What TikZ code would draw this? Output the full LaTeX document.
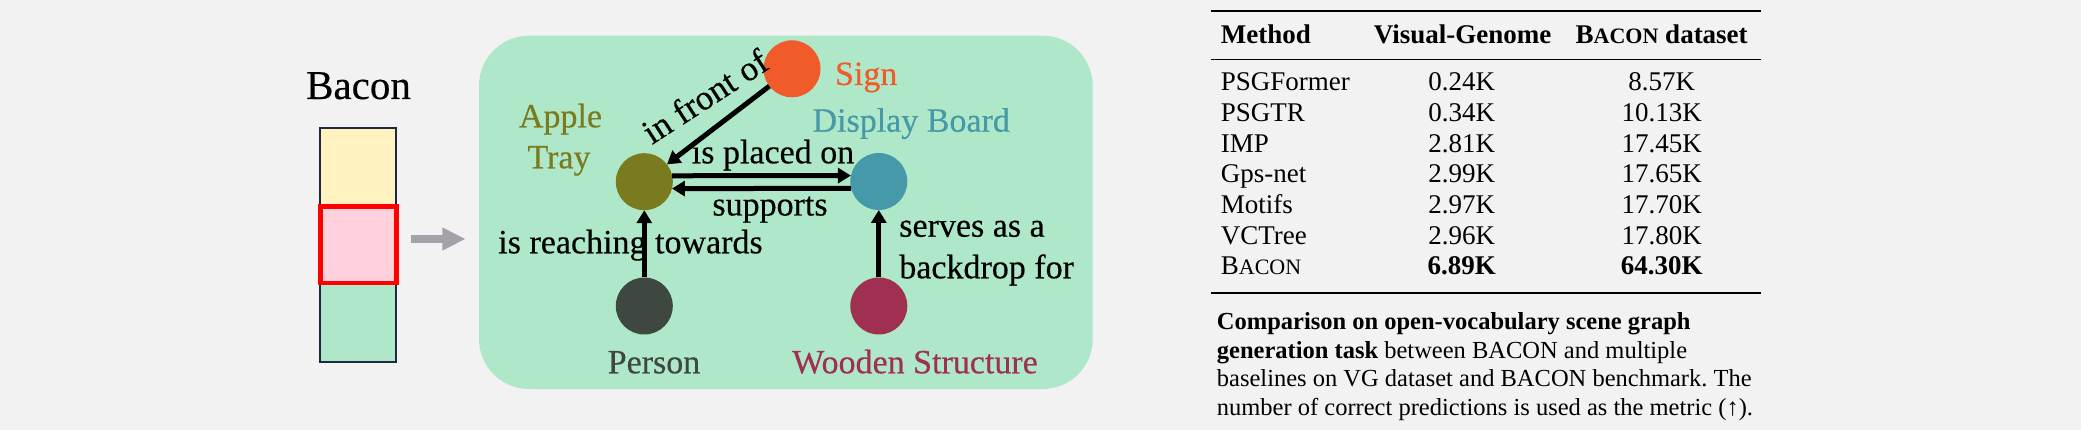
\documentclass[tikz,border=0pt]{standalone}
\usepackage{fontspec}
\setmainfont{Liberation Serif}
\newfontfamily\heavyserif[FakeBold=0.35]{Liberation Serif}
\usetikzlibrary{arrows.meta}
\frenchspacing
\definecolor{bg}{HTML}{F2F2F2}
\definecolor{panelgreen}{HTML}{AEE8C8}
\definecolor{stackyellow}{HTML}{FFF2C0}
\definecolor{stackpink}{HTML}{FFD1DC}
\definecolor{stacknavy}{HTML}{1B2A41}
\definecolor{arrowgray}{HTML}{A6A0AB}
\definecolor{signc}{HTML}{F15A29}
\definecolor{applec}{HTML}{7A7A1E}
\definecolor{dispc}{HTML}{4599A8}
\definecolor{personc}{HTML}{3E4740}
\definecolor{woodc}{HTML}{A03052}
\newcommand\bcnsc[1]{B{\fontsize{#1}{#1}\selectfont ACON}}
\begin{document}
\begin{tikzpicture}[x=1pt,y=-1pt,
  lbl/.style={inner sep=0pt,outer sep=0pt,font=\heavyserif\fontsize{34}{40}\selectfont},
  obj/.style={circle,inner sep=0pt,outer sep=0pt,minimum size=57pt},
  rel/.style={line width=5pt,-{Triangle[length=13pt,width=15pt]}},
  tabtxt/.style={inner sep=0pt,font=\fontsize{27}{32}\selectfont},
  tabhead/.style={inner sep=0pt,font=\fontsize{27}{32}\selectfont\bfseries},
  captxt/.style={inner sep=0pt,anchor=base west,font=\fontsize{24.5}{28}\selectfont},
]
\useasboundingbox (0,0) rectangle (2081,430);
\fill[bg] (0,0) rectangle (2081,430);

% ---- left stack ----
\node[inner sep=0pt,anchor=base,font=\heavyserif\fontsize{41}{48}\selectfont] (bacon) at (358.5,99) {Bacon};
\fill[stackyellow] (320.3,128.2) rectangle (396,206);
\fill[stackpink] (320.3,206) rectangle (396,284);
\fill[panelgreen] (320.3,284) rectangle (396,361.7);
\draw[stacknavy,line width=2pt] (320.3,128.2) rectangle (396,361.7);
\draw[red,line width=4.4pt] (320.5,206.7) rectangle (396.3,282.8);
\fill[arrowgray] (411,235.2) -- (442.3,235.2) -- (442.3,227.3) -- (465,239)
  -- (442.3,250.7) -- (442.3,242.8) -- (411,242.8) -- cycle;

% ---- scene graph panel ----
\fill[panelgreen,rounded corners=50pt] (479,35.7) rectangle (1092.7,389);

\node[obj,fill=signc] (sign) at (792,68.8) {};
\node[obj,fill=applec] (apple) at (644.3,181.7) {};
\node[obj,fill=dispc] (disp) at (878.8,181.5) {};
\node[obj,fill=personc] (person) at (644.3,306) {};
\node[obj,fill=woodc] (wood) at (878.8,306) {};

\node[lbl,anchor=base,text=signc] (signl) at (866.2,85) {Sign};
\node[lbl,anchor=base,text=applec] (applel1) at (560.5,127.3) {Apple};
\node[lbl,anchor=base,text=applec] (applel2) at (559,168.3) {Tray};
\node[lbl,anchor=base,text=dispc] (displ) at (911.2,131.7) {Display Board};
\node[lbl,anchor=base,text=personc] (personl) at (654,373.3) {Person};
\node[lbl,anchor=base,text=woodc] (woodl) at (915,373.3) {Wooden Structure};

\draw[rel] (sign) -- (apple);
\draw[rel] (apple.12) -- (disp.168);
\draw[rel] (disp.194) -- (apple.-14);
\draw[rel] (person) -- (apple);
\draw[rel] (wood) -- (disp);

\node[lbl,anchor=base west,rotate=33,font=\heavyserif\fontsize{35}{40}\selectfont] (e1) at (652,145) {in front of};
\node[lbl,anchor=base] (e2) at (773,163.3) {is placed on};
\node[lbl,anchor=base] (e3) at (770,215.5) {supports};
\node[lbl,anchor=base] (e4) at (630.5,253.3) {is reaching towards};
\node[lbl,anchor=base west] (e5a) at (899.3,236.7) {serves as a};
\node[lbl,anchor=base west] (e5b) at (899.3,278.3) {backdrop for};

% ---- table ----
\draw[line width=1.8pt] (1211,11) -- (1761,11);
\draw[line width=1pt] (1211,59.3) -- (1761,59.3);
\draw[line width=1.8pt] (1211,292.7) -- (1761,292.7);

\node[tabhead,anchor=base west] (h1) at (1220.7,43.3) {Method};
\node[tabhead,anchor=base] (h2) at (1462.5,43.3) {Visual-Genome};
\node[tabhead,anchor=base] (h3) at (1661.7,43.3) {\bcnsc{22} dataset};

\foreach \m/\a/\b [count=\i from 0] in {PSGFormer/0.24K/8.57K, PSGTR/0.34K/10.13K,
    IMP/2.81K/17.45K, Gps-net/2.99K/17.65K, Motifs/2.97K/17.70K, VCTree/2.96K/17.80K}{
  \node[tabtxt,anchor=base west] (m\i) at (1220.7,90.7+30.7*\i) {\m};
  \node[tabtxt,anchor=base] (a\i) at (1461.7,90.7+30.7*\i) {\a};
  \node[tabtxt,anchor=base] (b\i) at (1661.7,90.7+30.7*\i) {\b};
}
\node[tabtxt,anchor=base west] (m6) at (1220.7,274.9) {\bcnsc{22}};
\node[tabhead,anchor=base] (a6) at (1461.7,274.9) {6.89K};
\node[tabhead,anchor=base] (b6) at (1661.7,274.9) {64.30K};

% ---- caption ----
\node[captxt] (c1) at (1216.7,329.5) {\textbf{Comparison on open-vocabulary scene graph}};
\node[captxt] (c2) at (1216.7,358.1) {\textbf{generation task} between BACON and multiple};
\node[captxt] (c3) at (1216.7,386.7) {baselines on VG dataset and BACON benchmark. The};
\node[captxt] (c4) at (1216.7,415.3) {number of correct predictions is used as the metric (↑).};
\end{tikzpicture}
\end{document}
